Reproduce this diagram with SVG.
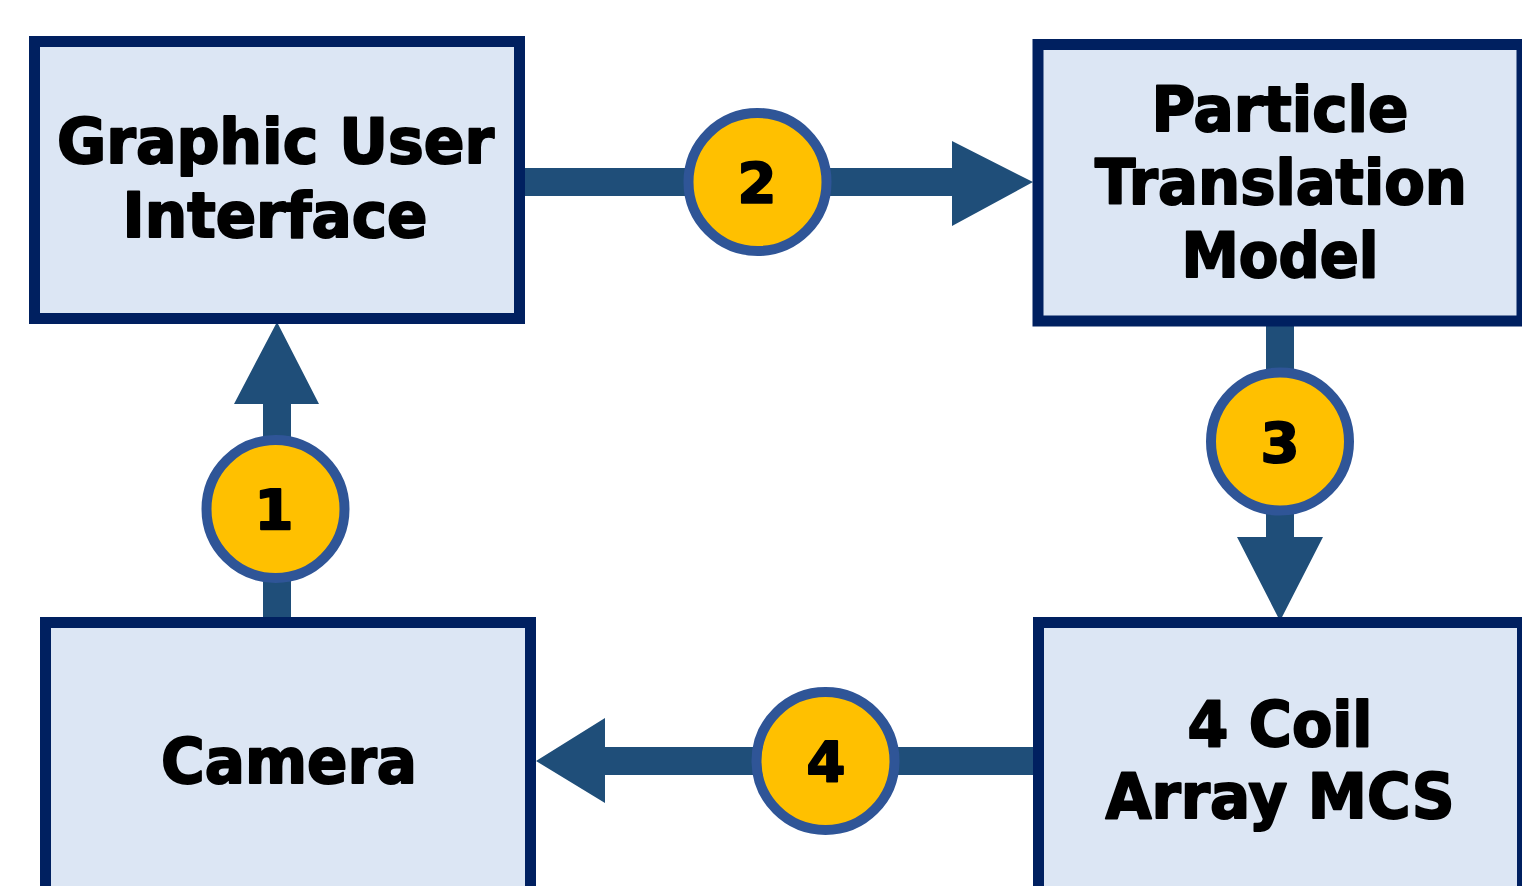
<svg xmlns="http://www.w3.org/2000/svg" width="1522" height="886" viewBox="0 0 1522 886">
  <style>
    .box { fill: #DCE6F4; stroke: #002060; stroke-width: 11; }
    .lbl { font-family: "DejaVu Sans", "Liberation Sans", sans-serif; font-weight: bold; font-size: 62px; fill: #000; stroke: #000; stroke-width: 2; stroke-linejoin: round; text-anchor: middle; }
    .conn { fill: #1F4E79; }
    .badge { fill: #FFC000; stroke: #2F5597; stroke-width: 10; }
    .num { font-family: "DejaVu Sans", "Liberation Sans", sans-serif; font-weight: bold; font-size: 56px; fill: #000; stroke: #000; stroke-width: 2; stroke-linejoin: round; text-anchor: middle; }
  </style>
  <rect x="0" y="0" width="1522" height="886" fill="#FFFFFF"/>

  <g id="connectors">
    <!-- 1: Camera -> GUI (up) -->
    <polygon class="conn" points="263,617 291,617 291,404 319,404 277,322 234,404 263,404"/>
    <!-- 2: GUI -> PTM (right) -->
    <polygon class="conn" points="524,168 952,168 952,141 1033,182 952,226 952,196 524,196"/>
    <!-- 3: PTM -> 4 Coil (down) -->
    <polygon class="conn" points="1266,322 1294,322 1294,537 1323,537 1280,621 1237,537 1266,537"/>
    <!-- 4: 4 Coil -> Camera (left) -->
    <polygon class="conn" points="1037,747 1037,775 605,775 605,803 536,761 605,718 605,747"/>
  </g>

  <g id="node-gui">
    <rect class="box" x="34.5" y="41.5" width="485" height="277"/>
    <text class="lbl" x="275.5" y="163" textLength="437" lengthAdjust="spacingAndGlyphs">Graphic User</text>
    <text class="lbl" x="275" y="236.5" textLength="305" lengthAdjust="spacingAndGlyphs">Interface</text>
  </g>

  <g id="node-ptm">
    <rect class="box" x="1038" y="44.5" width="484" height="276.5"/>
    <text class="lbl" x="1280" y="131" textLength="257" lengthAdjust="spacingAndGlyphs">Particle</text>
    <text class="lbl" x="1281" y="204" textLength="372" lengthAdjust="spacingAndGlyphs">Translation</text>
    <text class="lbl" x="1280" y="277" textLength="197" lengthAdjust="spacingAndGlyphs">Model</text>
  </g>

  <g id="node-camera">
    <rect class="box" x="45.5" y="622.5" width="485" height="276"/>
    <text class="lbl" x="289" y="783" textLength="256" lengthAdjust="spacingAndGlyphs">Camera</text>
  </g>

  <g id="node-coil">
    <rect class="box" x="1038.5" y="622.5" width="484" height="276"/>
    <text class="lbl" x="1280" y="746" textLength="185" lengthAdjust="spacingAndGlyphs">4 Coil</text>
    <text class="lbl" x="1280" y="818" textLength="349" lengthAdjust="spacingAndGlyphs">Array MCS</text>
  </g>

  <g id="badge-1">
    <circle class="badge" cx="275.5" cy="509" r="69"/>
    <text class="num" x="274" y="529">1</text>
  </g>
  <g id="badge-2">
    <circle class="badge" cx="757.5" cy="182" r="69"/>
    <text class="num" x="757" y="202">2</text>
  </g>
  <g id="badge-3">
    <circle class="badge" cx="1280" cy="441.5" r="69"/>
    <text class="num" x="1280" y="462">3</text>
  </g>
  <g id="badge-4">
    <circle class="badge" cx="825.5" cy="761" r="69"/>
    <text class="num" x="826" y="781">4</text>
  </g>
</svg>
